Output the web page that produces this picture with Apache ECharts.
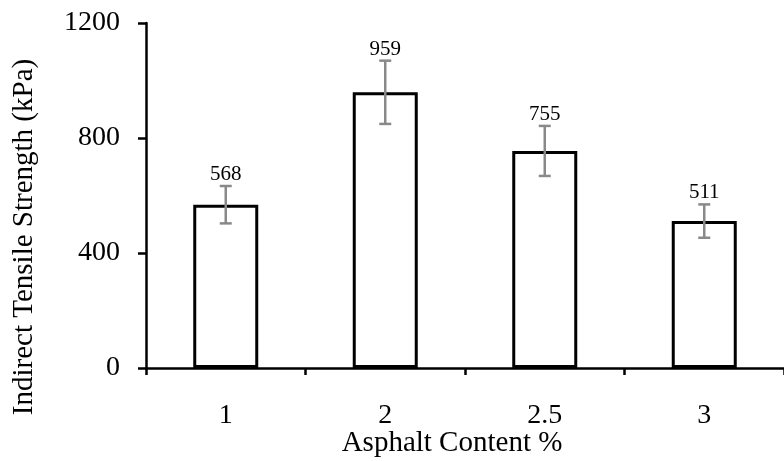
<!DOCTYPE html>
<html>
<head>
<meta charset="utf-8">
<script src="https://cdn.jsdelivr.net/npm/echarts@6/dist/echarts.min.js"></script>
<style>html,body{margin:0;padding:0;background:#fff;}#c{width:784px;height:461px;}</style>
</head>
<body>
<div id="c"></div>
<script>
const categories = ['1', '2', '2.5', '3'];
const strength = [568, 959, 755, 511];
const errors = [65, 110, 87, 58];
const yTicks = [0, 400, 800, 1200];
const xTitle = 'Asphalt Content %';
const yTitle = 'Indirect Tensile Strength (kPa)';

const FONT = '"Liberation Serif", "Times New Roman", serif';
const chart = echarts.init(document.getElementById('c'), null, {renderer: 'canvas'});

const errData = strength.map((v, i) => [i, v, errors[i]]);

chart.setOption({
  animation: false,
  backgroundColor: '#fff',
  grid: {left: 146, top: 23, width: 645, height: 345, containLabel: false},
  xAxis: {
    type: 'category',
    data: categories,
    boundaryGap: true,
    axisLine: {lineStyle: {color: '#000', width: 2.5}},
    axisTick: {show: true, alignWithLabel: false, length: 7, lineStyle: {color: '#000', width: 2.5}},
    axisLabel: {color: '#000', fontFamily: FONT, fontSize: 28, margin: 34}
  },
  yAxis: {
    type: 'value',
    min: yTicks[0],
    max: yTicks[yTicks.length - 1],
    interval: yTicks[1] - yTicks[0],
    splitLine: {show: false},
    axisLine: {show: true, lineStyle: {color: '#000', width: 2.5}},
    axisTick: {show: true, length: 8, lineStyle: {color: '#000', width: 2.5}},
    axisLabel: {color: '#000', fontFamily: FONT, fontSize: 28, margin: 26, formatter: function (v) { return String(v); }}
  },
  graphic: [
    {type: 'text', x: 452, y: 443, style: {text: xTitle, fill: '#000', font: '29px ' + FONT, textAlign: 'center', textVerticalAlign: 'middle'}},
    {type: 'text', x: 24, y: 237, rotation: Math.PI / 2, style: {text: yTitle, fill: '#000', font: '29px ' + FONT, textAlign: 'center', textVerticalAlign: 'middle'}}
  ],
  series: [
    {
      type: 'bar',
      data: strength,
      barWidth: 65,
      itemStyle: {color: '#fff', borderColor: '#000', borderWidth: 3},
      z: 2
    },
    {
      type: 'custom',
      data: errData,
      z: 5,
      renderItem: function (params, api) {
        const i = api.value(0), v = api.value(1), e = api.value(2);
        const top = api.coord([i, v + e]);
        const bot = api.coord([i, v - e]);
        const x = top[0];
        const cap = 6;
        const st = {stroke: '#898989', lineWidth: 2.5};
        return {
          type: 'group',
          children: [
            {type: 'line', shape: {x1: x, y1: top[1], x2: x, y2: bot[1]}, style: st},
            {type: 'line', shape: {x1: x - cap, y1: top[1], x2: x + cap, y2: top[1]}, style: st},
            {type: 'line', shape: {x1: x - cap, y1: bot[1], x2: x + cap, y2: bot[1]}, style: st},
            {type: 'text', x: x, y: top[1] - 1, style: {text: String(v), fill: '#000', font: '21px ' + FONT, textAlign: 'center', textVerticalAlign: 'bottom'}}
          ]
        };
      }
    }
  ]
});
</script>
</body>
</html>
